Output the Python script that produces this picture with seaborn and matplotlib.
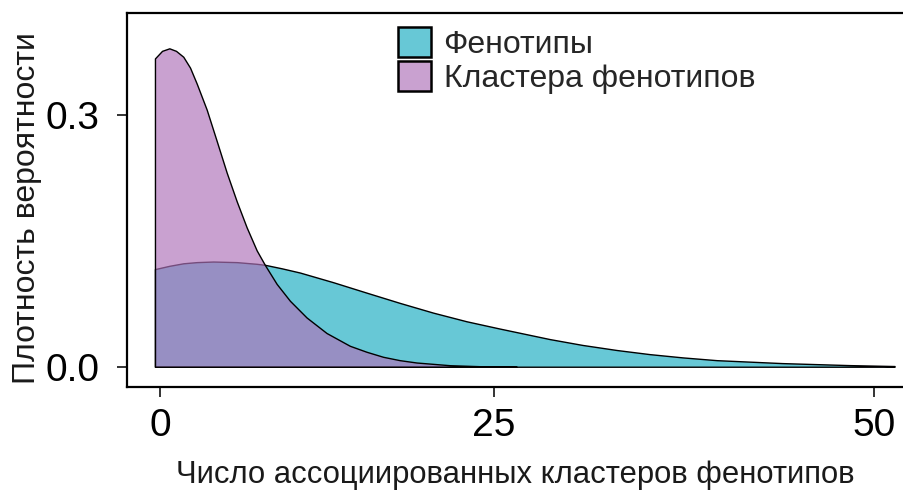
import numpy as np
import pandas as pd
import seaborn as sns
import matplotlib.pyplot as plt
from matplotlib.patches import Patch

# density curves (x = number of clusters, y = density)
teal_x = [-0.55, 0.96, 2.21, 3.35, 4.70, 6.55, 8.09, 8.72, 9.99, 11.33, 13.76,
          16.15, 18.5, 20.83, 23.14, 25.42, 28.8, 31.0, 33.27, 35.45, 37.62,
          39.85, 44.1, 48.43, 51.3]
teal_y = [0.1162, 0.1201, 0.1231, 0.1245, 0.1252, 0.1245, 0.1225, 0.1213, 0.1171,
          0.1121, 0.1006, 0.0882, 0.0760, 0.0644, 0.0541, 0.0454, 0.0329, 0.0259,
          0.0199, 0.0150, 0.0111, 0.0078, 0.0043, 0.0019, 0.0008]

purple_x = [-0.55, 0.24, 0.96, 1.57, 2.21, 2.79, 3.35, 4.17, 4.97, 5.77, 6.55,
            7.32, 8.09, 8.72, 9.60, 10.59, 11.82, 13.28, 14.96, 16.15, 17.33,
            18.5, 19.68, 21.99, 24.26, 26.57]
purple_y = [0.367, 0.376, 0.379, 0.376, 0.369, 0.356, 0.337, 0.306, 0.269, 0.231,
            0.197, 0.166, 0.1385, 0.121, 0.0986, 0.0785, 0.0586, 0.0401, 0.0249,
            0.0178, 0.0118, 0.0078, 0.0050, 0.0018, 0.0005, 0.0]

labels = ["Фенотипы", "Кластера фенотипов"]
x_ticks = [0, 25, 50]
y_ticks = [0.0, 0.3]

teal = (29/255, 173/255, 195/255)
purple = (175/255, 115/255, 186/255)
alpha = 0.67

sns.set_theme(style="ticks")
plt.rcParams['font.family'] = ['Liberation Sans', 'DejaVu Sans']

fig = plt.figure(figsize=(9.04, 4.92), dpi=100)
ax = fig.add_axes([0.1405, 0.214, 0.8595, 0.760])

# x axis in the reference is slightly stretched towards the right
p = 1.098
ax.set_xscale('function', functions=(lambda v: np.sign(v) * np.abs(v) ** p,
                                     lambda v: np.sign(v) * np.abs(v) ** (1 / p)))

df_t = pd.DataFrame({'x': teal_x, 'y': teal_y})
df_p = pd.DataFrame({'x': purple_x, 'y': purple_y})

ax.fill_between(df_t['x'], df_t['y'], 0, facecolor=(*teal, alpha),
                edgecolor='black', linewidth=1.0, zorder=2)
ax.fill_between(df_p['x'], df_p['y'], 0, facecolor=(*purple, alpha),
                edgecolor='black', linewidth=1.0, zorder=3)

ax.set_xlim(-3.04, 51.9)
ax.set_ylim(-0.0238, 0.4213)
ax.set_xticks(x_ticks)
ax.set_xticklabels([str(t) for t in x_ticks])
ax.set_yticks(y_ticks)
ax.set_yticklabels(["%.1f" % t for t in y_ticks])

for s in ['top', 'left', 'bottom']:
    ax.spines[s].set_linewidth(1.6)
    ax.spines[s].set_color('black')
ax.spines['right'].set_visible(False)
ax.tick_params(axis='both', length=7, width=1.4, color='#333333',
               labelsize=28, labelcolor='black')
ax.tick_params(axis='y', pad=13)
ax.tick_params(axis='x', pad=8)

ax.set_xlabel("Число ассоциированных кластеров фенотипов", fontsize=22.3,
              color='#1a1a1a', labelpad=12)
ax.set_ylabel("Плотность вероятности", fontsize=23, color='#1a1a1a')
ax.yaxis.set_label_coords(-0.109, 0.478)

handles = [Patch(facecolor=(*teal, alpha), edgecolor='black', linewidth=1.8),
           Patch(facecolor=(*purple, alpha), edgecolor='black', linewidth=1.8)]
ax.legend(handles, labels, loc='upper left', bbox_to_anchor=(0.349, 0.962),
          frameon=False, fontsize=23, handlelength=1.02, handleheight=1.05,
          handletextpad=0.4, labelspacing=0.05, borderaxespad=0, borderpad=0)

fig.savefig("out.png", dpi=100)
